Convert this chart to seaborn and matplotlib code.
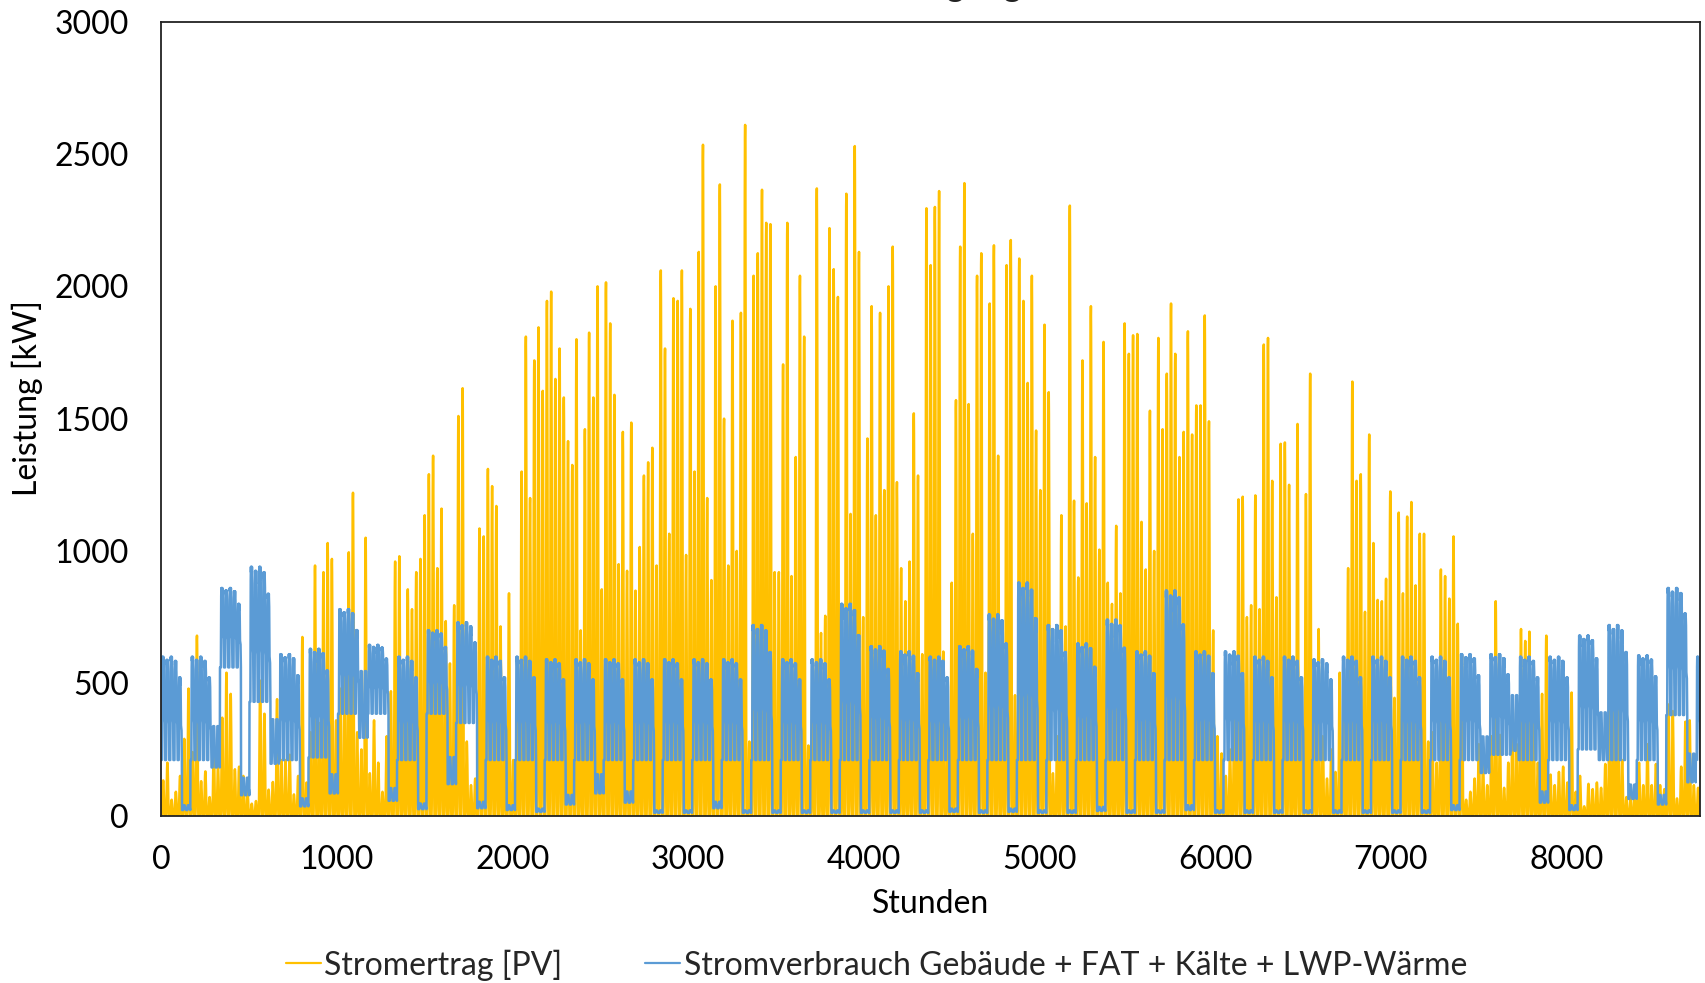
import numpy as np
import pandas as pd
import matplotlib
matplotlib.use("Agg")
import matplotlib.pyplot as plt
import seaborn as sns

# ── data (one PV peak per day, load per week) ────────────────────────────────
# PV: daily peak power [kW], 365 days
pv_daily_peak = [
    133, 200, 60, 90, 150, 290, 480, 240, 680, 130, 167, 70, 270, 190, 370, 540,
    460, 175, 185, 150, 90, 45, 55, 510, 385, 98, 127, 440, 210, 210, 230, 80,
    150, 675, 125, 315, 945, 350, 920, 1030, 970, 360, 480, 595, 995, 1220, 315, 250,
    1050, 160, 360, 200, 90, 300, 470, 960, 980, 455, 855, 780, 920, 970, 1135, 1290,
    1360, 935, 1160, 735, 575, 795, 1510, 1615, 280, 115, 140, 1085, 1055, 1310, 1245, 1170,
    715, 400, 840, 210, 500, 1300, 1810, 1200, 1720, 1845, 1605, 1945, 1980, 1650, 1765, 1580,
    1415, 1325, 1800, 700, 1460, 1825, 1580, 2000, 855, 2015, 1860, 1590, 950, 1450, 925, 1485,
    850, 1015, 1285, 1335, 1390, 945, 2060, 1765, 1065, 1955, 1945, 2060, 985, 1915, 1300, 2130,
    2535, 1200, 890, 2000, 2385, 1500, 945, 1870, 1000, 1900, 2610, 280, 2040, 2125, 2365, 2240,
    2235, 920, 920, 1705, 2240, 905, 1355, 2040, 1810, 265, 585, 2370, 690, 755, 2220, 2065,
    1960, 575, 2350, 1140, 2530, 2130, 750, 1425, 1925, 1135, 1900, 1230, 2000, 2150, 1260, 935,
    810, 960, 1520, 1285, 610, 2295, 2080, 2300, 2360, 620, 400, 880, 1570, 2150, 2390, 1555,
    1065, 2040, 2125, 540, 1935, 2155, 1360, 735, 2080, 2175, 455, 2105, 1945, 1635, 2040, 1455,
    1230, 1855, 1600, 160, 300, 1135, 715, 2305, 1190, 900, 1720, 1180, 1925, 1355, 1005, 1790,
    880, 800, 1095, 840, 1860, 1745, 1815, 1820, 1110, 930, 1530, 1000, 1805, 1460, 1670, 1935,
    1745, 1355, 1450, 1830, 1440, 1550, 1550, 1890, 1490, 700, 300, 235, 150, 250, 400, 1195,
    1205, 750, 795, 1210, 780, 1780, 1805, 1265, 825, 1405, 1410, 1250, 600, 1480, 500, 1215,
    1670, 400, 705, 300, 140, 250, 165, 540, 400, 935, 1640, 1265, 1290, 770, 1440, 1030,
    815, 810, 895, 1225, 445, 1145, 840, 1130, 1185, 870, 1065, 1065, 280, 315, 200, 930,
    905, 820, 1055, 725, 605, 60, 90, 140, 270, 200, 115, 300, 810, 305, 105, 200,
    430, 270, 705, 660, 695, 420, 200, 460, 680, 155, 115, 165, 185, 125, 465, 90,
    150, 35, 120, 100, 125, 105, 195, 420, 630, 610, 210, 70, 70, 105, 200, 115,
    270, 115, 195, 115, 100, 420, 395, 65, 185, 355, 360, 115, 105,
]
# PV: share of the daily peak for each hour of the day
pv_hour_share = [0, 0, 0, 0, 0, 0.02, 0.08, 0.2, 0.38, 0.58, 0.76, 0.9,
                 0.98, 1.0, 0.95, 0.84, 0.68, 0.48, 0.28, 0.12, 0.03, 0, 0, 0]

# Load: per week (53 weeks, Monday first) – workday peak, workday night, weekend level [kW]
load_workday_peak = [
    600, 600, 860, 940, 610, 630, 780, 645, 600, 700, 730, 600, 600, 590, 590, 590,
    590, 590, 590, 590, 720, 590, 590, 800, 640, 620, 600, 640, 760, 880, 720, 650,
    740, 620, 850, 620, 620, 600, 600, 590, 600, 600, 600, 600, 610, 610, 600, 600,
    680, 720, 605, 860, 600,
]
load_workday_night = [
    210, 210, 560, 430, 210, 220, 385, 385, 210, 385, 350, 210, 210, 210, 210, 210,
    210, 210, 210, 210, 210, 210, 210, 210, 210, 210, 210, 210, 210, 210, 210, 210,
    210, 210, 210, 210, 210, 210, 210, 210, 210, 210, 210, 210, 210, 230, 210, 210,
    250, 210, 210, 380, 210,
]
load_weekend = [
    30, 260, 110, 280, 50, 120, 420, 80, 35, 170, 40, 30, 20, 60, 120, 70,
    15, 15, 40, 15, 15, 15, 15, 15, 15, 15, 20, 15, 20, 15, 15, 25,
    15, 15, 30, 15, 15, 15, 15, 15, 15, 15, 15, 30, 230, 350, 70, 30,
    300, 90, 60, 180, 30,
]
# Load: share of the workday swing reached on Monday..Friday
load_workday_dow = [1.0, 0.97, 1.0, 0.96, 0.8]
# Load: hourly shape of a workday (0 = night level, 1 = peak) and of a weekend day
load_workday_shape = [0, 0, 0, 0, 0, 0, 0.45, 0.9, 1.0, 0.96, 1.0, 0.94,
                      0.9, 0.97, 1.0, 0.95, 0.88, 0.62, 0.42, 0.4, 0.38, 0.36, 0.18, 0]
load_weekend_shape = [0.7, 0.7, 0.7, 0.7, 0.7, 0.7, 0.7, 0.8, 1.1, 1.3, 1.3, 1.3,
                      1.3, 1.3, 1.3, 1.3, 1.2, 1.1, 0.9, 0.9, 0.9, 0.9, 0.8, 0.7]

LABEL_PV = "Stromertrag [PV]"
LABEL_LOAD = "Stromverbrauch Gebäude + FAT + Kälte + LWP-Wärme"

# ── colours / style ───────────────────────────────────────────────────────────
YELLOW = "#FFC000"
BLUE = "#5B9BD5"
FONT = ["Lato", "DejaVu Sans"]
FS = 23

sns.set_theme(style="white")
plt.rcParams["font.family"] = FONT
plt.rcParams["font.size"] = FS

# ── hourly series ─────────────────────────────────────────────────────────────
pv_h = []
load_h = []
for d, peak in enumerate(pv_daily_peak):
    w, dow = d // 7, d % 7
    for h in range(24):
        pv_h.append(peak * pv_hour_share[h])
        if dow < 5:
            lo, hi = load_workday_night[w], load_workday_peak[w]
            load_h.append(lo + (hi - lo) * load_workday_dow[dow] * load_workday_shape[h])
        else:
            load_h.append(load_weekend[w] * load_weekend_shape[h])

df = pd.DataFrame({"Stunde": np.arange(len(pv_h)), "pv": pv_h, "load": load_h})

# ── plot ──────────────────────────────────────────────────────────────────────
fig = plt.figure(figsize=(17.05, 9.83), dpi=100)
ax = fig.add_axes([0.0944, 0.1703, 0.9027, 0.8076])

sns.lineplot(data=df, x="Stunde", y="pv", ax=ax, color=YELLOW, lw=1.8,
             estimator=None, label=LABEL_PV)
sns.lineplot(data=df, x="Stunde", y="load", ax=ax, color=BLUE, lw=1.8,
             estimator=None, label=LABEL_LOAD)

ax.set_xlim(0, 8760)
ax.set_ylim(0, 3000)
ax.set_xticks(range(0, 8001, 1000))
ax.set_yticks(range(0, 3001, 500))
ax.tick_params(length=0, labelsize=FS, colors="black")
ax.tick_params(axis="x", pad=21)
ax.tick_params(axis="y", pad=23)

ax.set_xlabel("Stunden", fontsize=FS, color="black")
ax.set_ylabel("Leistung [kW]", fontsize=FS, color="black")
ax.xaxis.set_label_coords(0.5, -0.1115)
ax.xaxis.label.set_va("center")
ax.yaxis.set_label_coords(-0.087, 0.526)
ax.yaxis.label.set_va("center")

for sp in ax.spines.values():
    sp.set_visible(True)
    sp.set_color("#222222")
    sp.set_linewidth(1.3)

# title sits mostly above the picture, only the descenders show
fig.text(0.5994, 1.004, "Stromerzeugung", ha="right", va="baseline",
         fontsize=25, color="#222222")

handles, labels = ax.get_legend_handles_labels()
ax.get_legend().remove()
leg = fig.legend(handles, labels, loc="center", bbox_to_anchor=(0.514, 0.0183),
                 ncol=2, frameon=False, fontsize=FS, handlelength=1.1,
                 handletextpad=0.1, columnspacing=2.6)
for ln in leg.get_lines():
    ln.set_linewidth(1.6)

fig.savefig("out.png", dpi=100)
